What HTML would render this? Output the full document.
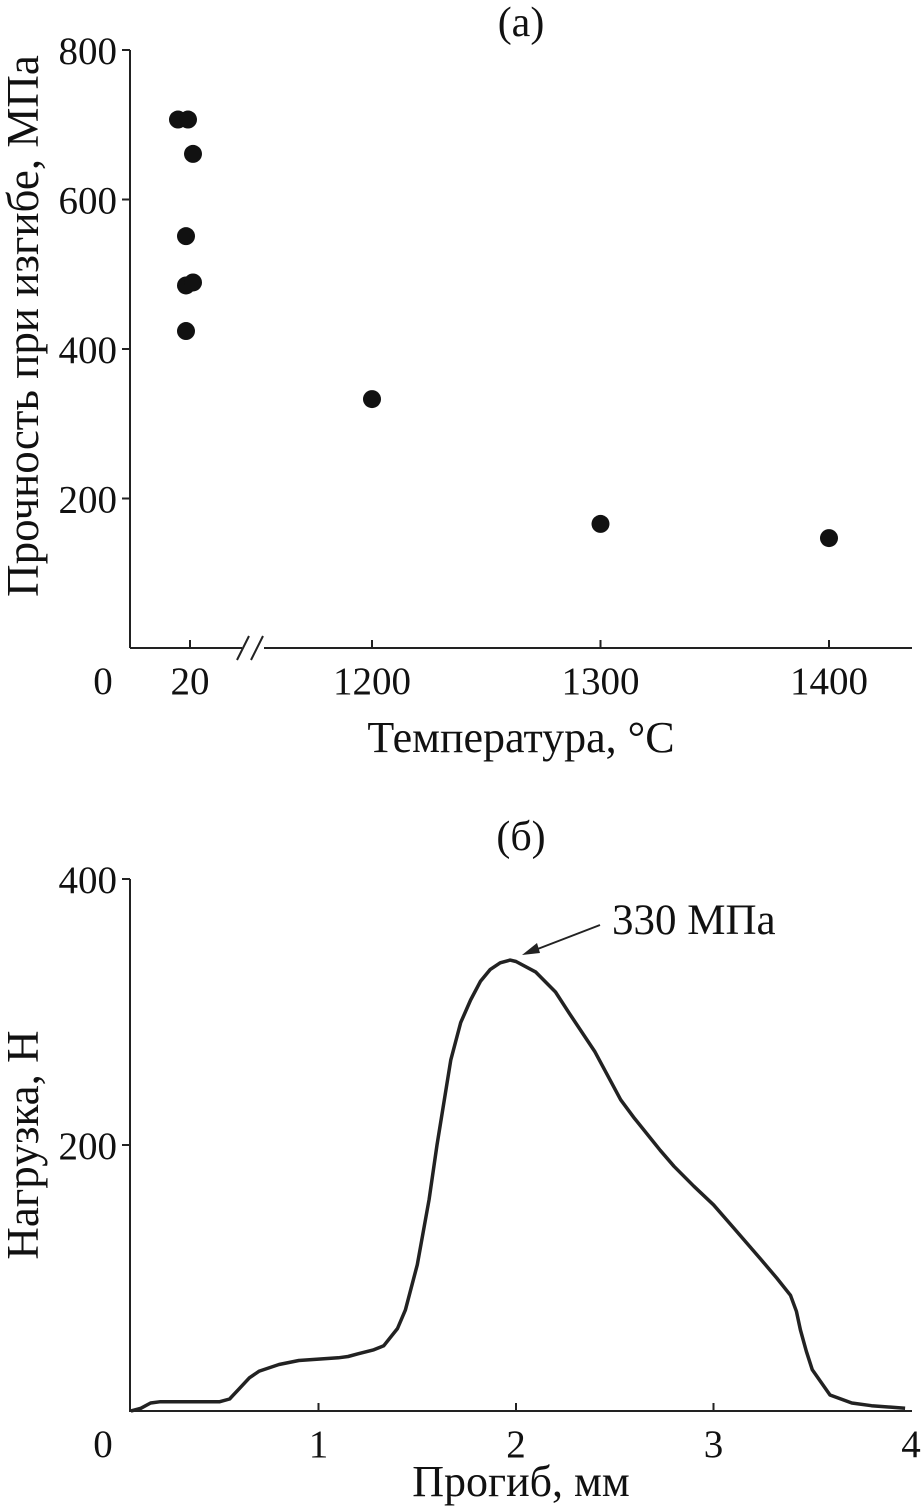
<!DOCTYPE html>
<html><head><meta charset="utf-8">
<style>
html,body{margin:0;padding:0;background:#fff;}
svg{display:block;font-family:"Liberation Serif","DejaVu Serif",serif;}
</style></head>
<body>
<svg id="c" width="923" height="1507" viewBox="0 0 923 1507">
<g id="ga"></g>
<g id="gb"></g>
</svg>
<script>
// ---- Chart (a) data ----
const aGroupTemps = [15.2, 19.2, 21.2, 18.4, 18.4, 21.2, 18.4, 1200, 1300, 1400];
const aStrength = [707, 707, 661, 551, 485, 489, 424, 333, 166, 147];
const aYTicks = [200, 400, 600, 800];
const aXTickLabels = ["20", "1200", "1300", "1400"];
const aXTickValues = [20, 1200, 1300, 1400];

// ---- Chart (b) data ----
const bDefl = [0.05,0.1,0.15,0.2,0.3,0.4,0.5,0.55,0.6,0.65,0.7,0.8,0.9,1.0,1.1,1.15,1.2,1.28,1.33,1.4,1.44,1.5,1.56,1.6,1.67,1.72,1.77,1.82,1.87,1.92,1.97,2.0,2.1,2.2,2.27,2.4,2.53,2.6,2.73,2.8,2.9,3.0,3.1,3.24,3.32,3.39,3.42,3.44,3.47,3.5,3.59,3.7,3.8,3.97];
const bLoad = [0,2,6,7,7,7,7,9,17,25,30,35,38,39,40,41,43,46,49,62,76,110,159,200,264,292,309,323,332,337,339,338,330,315,299,270,234,220,196,184,169,155,138,114,100,87,75,61,45,31,12,6,4,2];
const bYTicks = [200, 400];
const bXTicks = [0, 1, 2, 3, 4];

const NS = "http://www.w3.org/2000/svg";
function mk(parent, tag, attrs){const e=document.createElementNS(NS,tag);for(const k in attrs)e.setAttribute(k,attrs[k]);parent.appendChild(e);return e;}
function txt(parent,x,y,s,anchor,size){const t=mk(parent,"text",{x:x,y:y,"text-anchor":anchor||"middle","font-size":size||39,fill:"#111"});t.textContent=s;return t;}

// ---- Chart (a) ----
const ga=document.getElementById("ga");
const ayS=v=>648-v*0.7475;
const axS=t=>t<100?190+(t-20)*2.5:372+(t-1200)*2.285;
let e;
e=mk(ga,"line",{x1:130,y1:50,x2:130,y2:648,stroke:"#222","stroke-width":2});


e=mk(ga,"path",{d:"M130 648 H242 M264 648 H912",stroke:"#222","stroke-width":2,fill:"none"});


e=mk(ga,"path",{d:"M237 660 L249 636 M251 660 L263 636",stroke:"#222","stroke-width":2,fill:"none"});


aYTicks.forEach(v=>{
  e=mk(ga,"line",{x1:122,y1:ayS(v),x2:130,y2:ayS(v),stroke:"#222","stroke-width":2});
  
  
  e=txt(ga,117,ayS(v)+14,String(v),"end");
  
  
});
aXTickValues.forEach((v,i)=>{
  const x=axS(v);
  e=mk(ga,"line",{x1:x,y1:640,x2:x,y2:648,stroke:"#222","stroke-width":2});
  
  
  e=txt(ga,x,694,aXTickLabels[i]);
  
  
});
e=txt(ga,103,694,"0");


aStrength.forEach((v,i)=>{
  e=mk(ga,"circle",{cx:axS(aGroupTemps[i]),cy:ayS(v),r:9,fill:"#111"});
  
  
});
e=txt(ga,521,36,"(a)","middle",42);


e=txt(ga,521,752,"Температура, °C","middle",44);


e=txt(ga,0,0,"Прочность при изгибе, МПа","middle",45);
e.setAttribute('transform','translate(38,326) rotate(-90)');



// ---- Chart (b) ----
const gb=document.getElementById("gb");
const bxS=v=>121+v*197.5;
const byS=v=>1411-v*1.33;
e=mk(gb,"line",{x1:130,y1:879,x2:130,y2:1412,stroke:"#222","stroke-width":2});


e=mk(gb,"line",{x1:130,y1:1411,x2:912,y2:1411,stroke:"#222","stroke-width":2});


bYTicks.forEach(v=>{
  e=mk(gb,"line",{x1:122,y1:byS(v),x2:130,y2:byS(v),stroke:"#222","stroke-width":2});
  
  
  e=txt(gb,117,byS(v)+14,String(v),"end");
  
  
});
bXTicks.forEach(v=>{
  const x=v===0?103:bxS(v);
  if(v>0&&v<4){e=mk(gb,"line",{x1:x,y1:1403,x2:x,y2:1411,stroke:"#222","stroke-width":2});
  
  }
  e=txt(gb,x,1457,String(v));
  
  
});
let d="";
bDefl.forEach((v,i)=>{d+=(i?"L":"M")+bxS(v).toFixed(1)+" "+byS(bLoad[i]).toFixed(1)+" ";});
e=mk(gb,"path",{d:d,fill:"none",stroke:"#222","stroke-width":3.5,"stroke-linejoin":"round"});


e=mk(gb,"line",{x1:600,y1:925,x2:535,y2:950,stroke:"#222","stroke-width":2});


e=mk(gb,"path",{d:"M522 955 L537 943 L540 953 Z",fill:"#222"});


e=txt(gb,612,934,"330 МПа","start",43);


e=txt(gb,521,850,"(б)","middle",42);


e=txt(gb,521,1496,"Прогиб, мм","middle",44);


e=txt(gb,0,0,"Нагрузка, Н","middle",45);
e.setAttribute('transform','translate(38,1145) rotate(-90)');


</script>
</body></html>
